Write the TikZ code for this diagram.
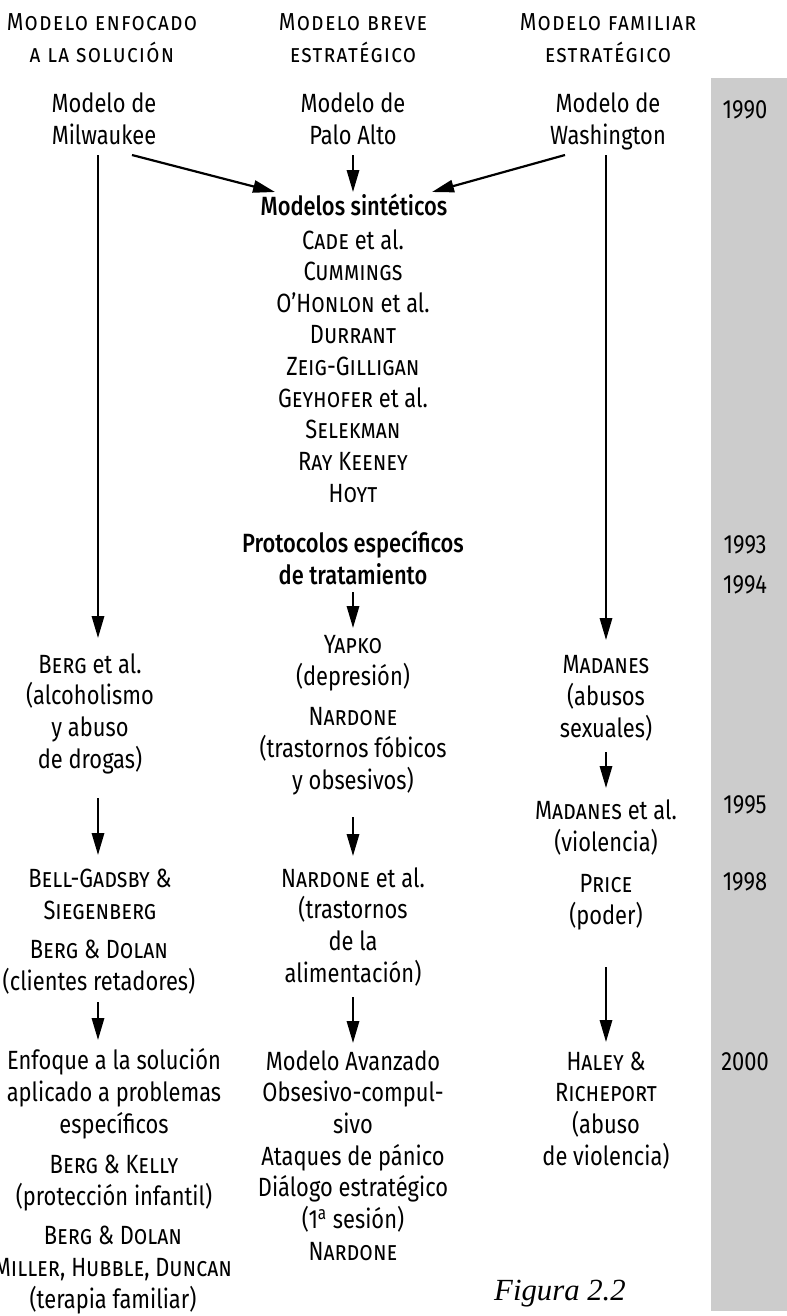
\documentclass[tikz,border=0pt]{standalone}
\usepackage{fontspec}
\setmainfont{Fira Sans}[FakeStretch=0.83]
\newfontfamily\headfont{Fira Sans}[FakeStretch=0.87,LetterSpace=5]
\IfFontExistsTF{Fira Sans Medium}
  {\newfontfamily\semib{Fira Sans Medium}[FakeStretch=0.83]}
  {\newcommand\semib{\bfseries}}
\newfontfamily\capfont{Liberation Serif}
\usetikzlibrary{arrows.meta,calc}

\begin{document}
\begin{tikzpicture}[x=0.02cm,y=-0.02cm,line width=1.25pt,
  txt/.style={align=center,anchor=base,inner sep=0pt,font=\fontsize{15}{18}\selectfont},
  head/.style={txt,font=\headfont\fontsize{14}{18}\selectfont\scshape},
  arr/.style={-{Triangle[length=12.5pt,width=7pt]}}]
  \useasboundingbox (0,0) rectangle (787,1316);
  \fill[gray!40] (711,78) rectangle (787,1311);
  \coordinate (colL) at (98,0);
  \coordinate (colM) at (353,0);
  \coordinate (colR) at (606,0);
  \node[head] (hL) at (102,62) {Modelo enfocado\\a la solución};
  \node[head] (hM) at (353,62) {Modelo breve\\estratégico};
  \node[head] (hR) at (608,62) {Modelo familiar\\estratégico};
  \node[txt] (y1990) at (745,118) {1990};
  \node[txt] (y1993) at (745,553) {1993};
  \node[txt] (y1994) at (745,593) {1994};
  \node[txt] (y1995) at (745,813) {1995};
  \node[txt] (y1998) at (745,890) {1998};
  \node[txt] (y2000) at (745,1070) {2000};
  \node[txt] (milw) at (104,144) {Modelo de\\Milwaukee};
  \node[txt] (palo) at (353,144) {Modelo de\\Palo Alto};
  \node[txt] (wash) at (608,144) {Modelo de\\Washington};
  \node[txt] (sint) at (354,215) {\semib Modelos sintéticos};
  \node[txt] (autores) at (353,502) {\textsc{Cade} et al.\\\textsc{Cummings}\\\textsc{O’Honlon} et al.\\
    \textsc{Durrant}\\\textsc{Zeig-Gilligan}\\\textsc{Geyhofer} et al.\\\textsc{Selekman}\\
    \textsc{Ray Keeney}\\\textsc{Hoyt}};
  \node[txt] (prot) at (353,584) {\semib Protocolos específicos\\\semib de tratamiento};
  \node[txt] (berg) at (90,768) {\textsc{Berg} et al.\\(alcoholismo\\y abuso\\de drogas)};
  \node[txt] (yapko) at (353,685) {\textsc{Yapko}\\(depresión)};
  \node[txt] (nard) at (353,789) {\textsc{Nardone}\\(trastornos fóbicos\\y obsesivos)};
  \node[txt] (mad) at (606,737) {\textsc{Madanes}\\(abusos\\sexuales)};
  \node[txt] (madal) at (606,851) {\textsc{Madanes} et al.\\(violencia)};
  \node[txt] (bell) at (100,919) {\textsc{Bell-Gadsby \&}\\\textsc{Siegenberg}};
  \node[txt] (bergd) at (99,990) {\textsc{Berg \& Dolan}\\(clientes retadores)};
  \node[txt] (nardal) at (353,982) {\textsc{Nardone} et al.\\(trastornos\\de la\\alimentación)};
  \node[txt] (price) at (606,924) {\textsc{Price}\\(poder)};
  \node[txt] (enf) at (114,1133) {Enfoque a la solución\\aplicado a problemas\\específicos};
  \node[txt] (bergk) at (114,1205) {\textsc{Berg \& Kelly}\\(protección infantil)};
  \node[txt] (bergm) at (113,1308) {\textsc{Berg \& Dolan}\\\textsc{Miller, Hubble, Duncan}\\(terapia familiar)};
  \node[txt] (avz) at (353,1260) {Modelo Avanzado\\Obsesivo-compul-\\sivo\\Ataques de pánico\\
    Diálogo estratégico\\(1\textsuperscript{a} sesión)\\\textsc{Nardone}};
  \node[txt] (haley) at (606,1165) {\textsc{Haley \&}\\\textsc{Richeport}\\(abuso\\de violencia)};
  \node[anchor=base,inner sep=0pt,font=\capfont\itshape\fontsize{17.5}{20}\selectfont] (fig) at (560,1300) {Figura 2.2};
  \draw[arr] ($(milw.base)+(28,11)$) -- ($(sint.base)+(-79,-23)$);
  \draw[arr] ($(palo.base)+(0,11)$) -- ($(sint.base -| colM)+(0,-23)$);
  \draw[arr] ($(wash.base)+(-43,11)$) -- ($(sint.base)+(78,-23)$);
  \draw[arr] ($(milw.base -| colL)+(0,11)$) -- ($(berg.base -| colL)+(0,-130)$);
  \draw[arr] ($(wash.base -| colR)+(0,11)$) -- ($(mad.base -| colR)+(0,-97)$);
  \draw[arr] ($(prot.base)+(0,8)$) -- ($(yapko.base)+(0,-57)$);
  \draw[arr] ($(berg.base -| colL)+(0,30)$) -- ($(bell.base -| colL)+(0,-64)$);
  \draw[arr] ($(nard.base)+(0,28)$) -- ($(nardal.base)+(0,-126)$);
  \draw[arr] ($(mad.base)+(0,15)$) -- ($(madal.base)+(0,-63)$);
  \draw[arr] ($(bergd.base -| colL)+(0,12)$) -- ($(enf.base -| colL)+(0,-93)$);
  \draw[arr] ($(nardal.base)+(0,15)$) -- ($(avz.base)+(0,-217)$);
  \draw[arr] ($(price.base)+(0,43)$) -- ($(haley.base)+(0,-123)$);
\end{tikzpicture}
\end{document}
